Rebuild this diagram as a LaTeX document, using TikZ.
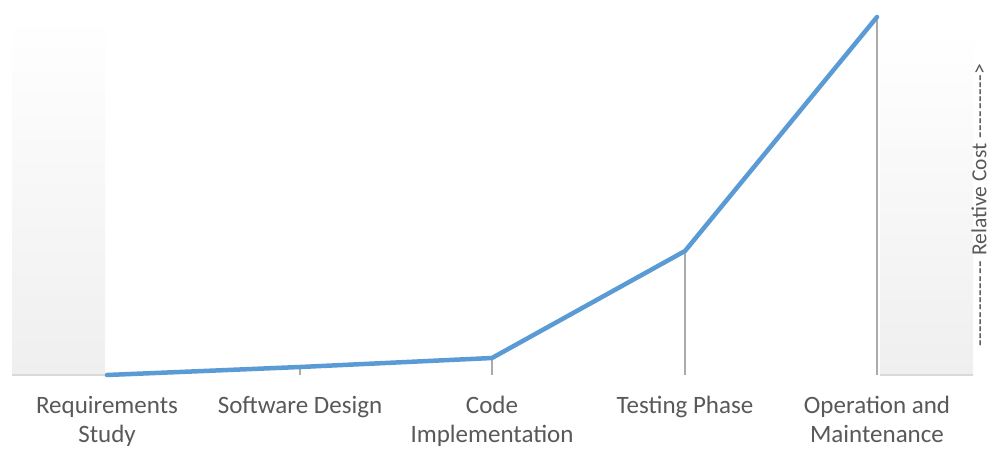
\documentclass[tikz,border=0pt]{standalone}
\usepackage{fontspec}
\setmainfont{Carlito}
\definecolor{lineblue}{HTML}{5B9BD5}
\definecolor{dropgray}{HTML}{ABABAB}
\definecolor{basegray}{HTML}{D9D9D9}
\definecolor{panelgray}{HTML}{EFEFEF}
\definecolor{labelgray}{HTML}{595959}
\newcommand\hyrun[1]{\foreach \k in {1,...,#1}{-\kern0.6pt}}
\begin{document}
\begin{tikzpicture}[x=1pt,y=-1pt,
  phase/.style={text=labelgray,font=\fontsize{25}{29}\selectfont,align=center,anchor=north,inner sep=0pt},
  dropline/.style={draw=dropgray,line width=1.5pt},
  costline/.style={draw=lineblue,line width=4.5pt,line join=round,line cap=round},
  baseline/.style={draw=basegray,line width=1.5pt}]
\useasboundingbox (0,0) rectangle (992,449);
\fill[white] (0,0) rectangle (992,449);
% side panels
\shade[top color=white,bottom color=panelgray] (12,15) rectangle (105,375);
\shade[top color=white,bottom color=panelgray] (880,30) rectangle (973,375);
\draw[baseline] (12,375) -- (105,375);
\draw[baseline] (880,375) -- (973,375);
% data points
\coordinate (p1) at (107,375);
\coordinate (p2) at (300,367);
\coordinate (p3) at (492,358);
\coordinate (p4) at (685,251);
\coordinate (p5) at (877,17);
\coordinate (b2) at (300,375);
\coordinate (b3) at (492,375);
\coordinate (b4) at (685,375);
\coordinate (b5) at (877,375);
\draw[dropline] (p2) -- (b2);
\draw[dropline] (p3) -- (b3);
\draw[dropline] (p4) -- (b4);
\draw[dropline] (p5) -- (b5);
\draw[costline] (p1) -- (p2) -- (p3) -- (p4) -- (p5);
% labels
\node[phase] (l1) at (107,396) {Requirements\\Study};
\node[phase] (l2) at (300,396) {Software Design};
\node[phase] (l3) at (492,396) {Code\\Implementation};
\node[phase] (l4) at (685,396) {Testing Phase};
\node[phase] (l5) at (877,396) {Operation and\\Maintenance};
\node[text=labelgray,font=\fontsize{21.5}{26}\selectfont,rotate=90,inner sep=0pt,anchor=center] (axis) at (979,205) {\hyrun{12} Relative Cost \hyrun{9}>};
\end{tikzpicture}
\end{document}
